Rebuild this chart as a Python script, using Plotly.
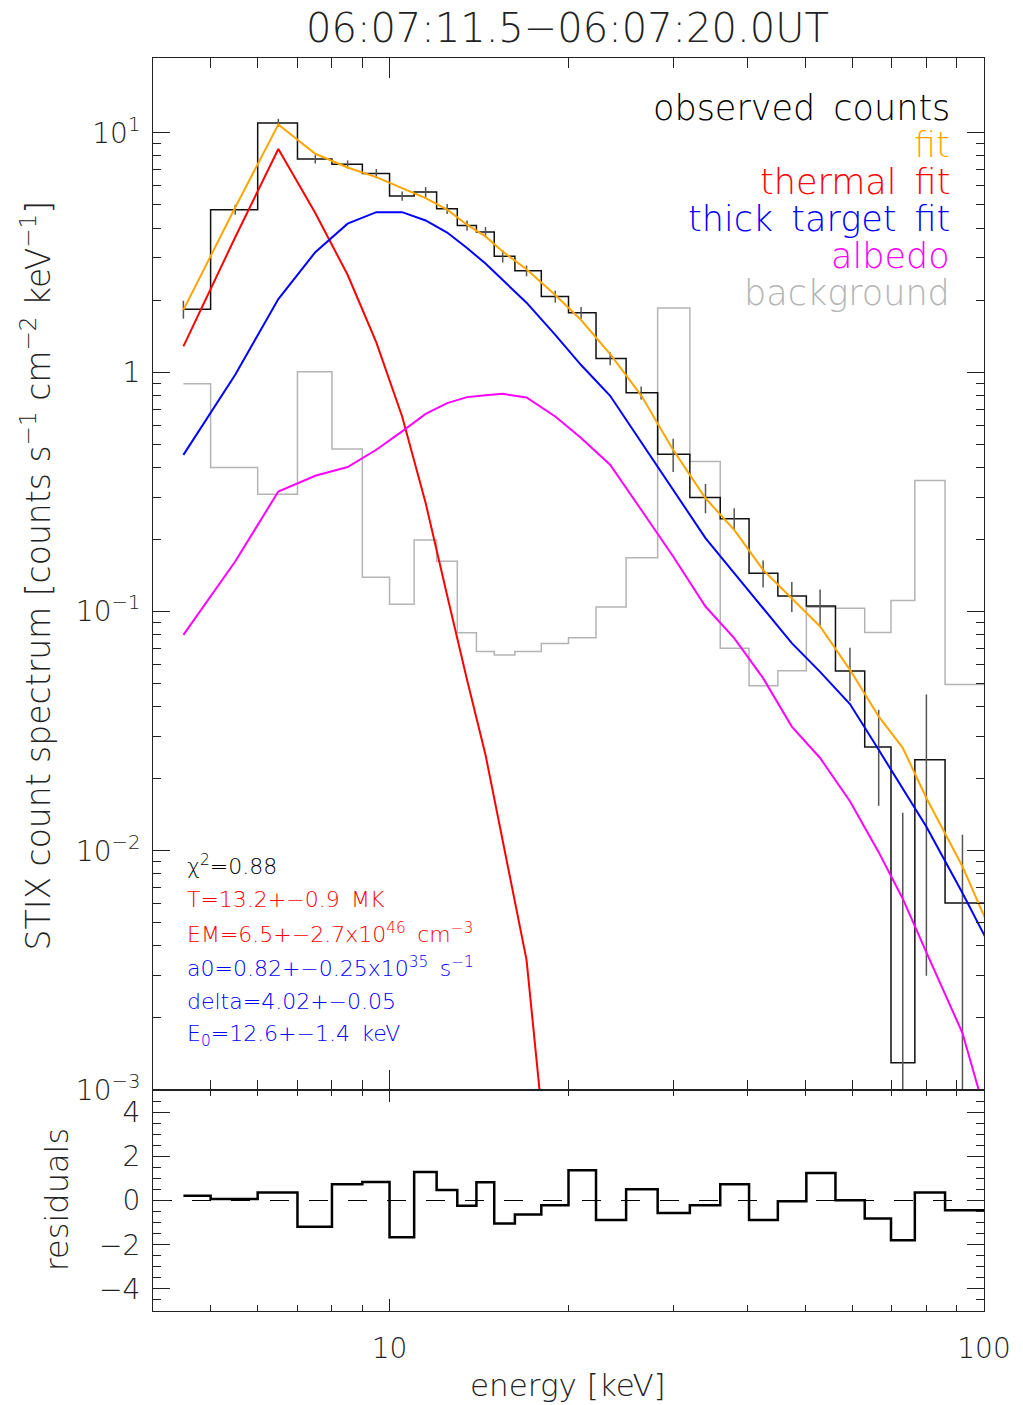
import numpy as np
import plotly.graph_objects as go

# ---------------- data ----------------
edges = [4, 5, 6, 7, 8, 9, 10, 11, 12, 13, 14, 15, 16, 18, 20, 22, 25, 28, 32, 36,
         40, 45, 50, 56, 63, 70, 76, 84, 100, 150]

observed = [1.83, 4.77, 11.0, 7.77, 7.38, 6.76, 5.44, 5.65, 4.81, 4.10, 3.85, 3.05,
            2.65, 2.07, 1.77, 1.14, 0.82, 0.454, 0.299, 0.244, 0.1445, 0.116, 0.1054,
            0.0563, 0.0271, 0.0013, 0.0240, 0.00604]
observed_err = [0.157, 0.23, 0.43, 0.33, 0.29, 0.30, 0.24, 0.28, 0.235, 0.20, 0.19, 0.18,
                0.138, 0.118, 0.10, 0.071, 0.051, 0.072, 0.042, 0.026, 0.0186, 0.0167,
                0.0179, 0.0141, 0.0117, 0.0131, 0.0210, 0.00562]

fit = [1.82, 4.87, 10.83, 8.17, 7.16, 6.53, 5.87, 5.33, 4.77, 4.13, 3.69, 3.19, 2.69,
       2.10, 1.65, 1.19, 0.80, 0.473, 0.297, 0.219, 0.149, 0.1137, 0.0865, 0.057,
       0.0364, 0.0269, 0.0166, 0.00859, 0.0015]
thermal = [1.28, 3.66, 8.55, 4.62, 2.55, 1.33, 0.652, 0.284, 0.1165, 0.0518, 0.0252,
           0.0111, 0.0035, 2.2e-4, 3e-5, 3e-6, 2e-7, 1e-8, 5e-10, 2e-11, 1e-12, 1e-13,
           1e-14, 1e-15, 1e-16, 1e-17, 1e-18, 1e-19, 1e-20]
thick_target = [0.451, 0.974, 2.02, 3.17, 4.17, 4.66, 4.66, 4.30, 3.83, 3.30, 2.84, 2.43,
                1.95, 1.43, 1.07, 0.796, 0.508, 0.319, 0.2024, 0.1445, 0.1032, 0.0737,
                0.0559, 0.041, 0.0264, 0.0183, 0.0126, 0.00665, 0.00153]
albedo = [0.0798, 0.1616, 0.317, 0.3687, 0.401, 0.4735, 0.565, 0.669, 0.742, 0.786, 0.801,
          0.811, 0.783, 0.652, 0.530, 0.410, 0.266, 0.1696, 0.1048, 0.0773, 0.0526, 0.033,
          0.0244, 0.0161, 0.00986, 0.0063, 0.00376, 0.00173, 1.2e-4]
background = [0.894, 0.399, 0.309, 1.003, 0.477, 0.139, 0.107, 0.1986, 0.162, 0.0814,
              0.068, 0.0657, 0.068, 0.0734, 0.0776, 0.1043, 0.1675, 1.851, 0.423, 0.0702,
              0.0489, 0.0565, 0.104, 0.103, 0.0817, 0.111, 0.352, 0.0495]
residuals = [0.21, 0.07, 0.36, -1.19, 0.74, 0.84, -1.66, 1.29, 0.48, -0.24, 0.83, -1.04,
             -0.63, -0.21, 1.37, -0.88, 0.51, -0.56, -0.21, 0.74, -0.88, -0.03, 1.25,
             0.01, -0.82, -1.80, 0.36, -0.44]

title_text = "06:07:11.5\u221206:07:20.0UT"
legend_labels = ["observed\u2009 counts", "fit", "thermal\u2009 fit",
                 "thick\u2009 target\u2009 fit", "albedo", "background"]
legend_colors = ["#000000", "#FFA500", "#FF0000", "#0000FF", "#FF00FF", "#B4B4B4"]
param_lines = [
    ("\u03c7<sup>2</sup>=0.88", "#000000"),
    ("T=13.2+\u22120.9\u2009 MK", "#FF0000"),
    ("EM=6.5+\u22122.7x10<sup>46</sup>\u2009 cm<sup>\u22123</sup>", "#FF0000"),
    ("a0=0.82+\u22120.25x10<sup>35</sup>\u2009 s<sup>\u22121</sup>", "#0000FF"),
    ("delta=4.02+\u22120.05", "#0000FF"),
    ("E<sub>0</sub>=12.6+\u22121.4\u2009 keV", "#0000FF"),
]
ytick_vals = [1e-3, 1e-2, 1e-1, 1, 10]
ytick_text = ["10<sup>\u22123</sup>", "10<sup>\u22122</sup>", "10<sup>\u22121</sup>", "1",
              "10<sup>1</sup>"]
xtick_vals = [10, 100]
xtick_text = ["10", "100"]

# ---------------- helpers ----------------
centers = [0.5 * (a + b) for a, b in zip(edges[:-1], edges[1:])]
n_obs = len(observed)
obs_centers = centers[:n_obs]
x_end = edges[n_obs]


def steps(cs, vals, xend):
    xs, ys = [], []
    n = len(vals)
    for i in range(n):
        left = cs[0] if i == 0 else 0.5 * (cs[i - 1] + cs[i])
        right = xend if i == n - 1 else 0.5 * (cs[i] + cs[i + 1])
        xs += [left, right]
        ys += [vals[i], vals[i]]
    return xs, ys


FONT = "DejaVu Sans"
W, H = 1023, 1405
ML, MR, MT, MB = 153, 36, 58, 94
PH = H - MT - MB
split = 221 / PH

fig = go.Figure()

# background
bx, by = steps(obs_centers, background, x_end)
fig.add_trace(go.Scatter(x=bx, y=by, mode="lines", line=dict(color="#B4B4B4", width=1.5),
                         xaxis="x", yaxis="y", showlegend=False, hoverinfo="skip"))
# observed
ox, oy = steps(obs_centers, observed, x_end)
fig.add_trace(go.Scatter(x=ox, y=oy, mode="lines", line=dict(color="#111111", width=1.5),
                         xaxis="x", yaxis="y", showlegend=False, hoverinfo="skip"))
ex, ey = [], []
for c, v, e in zip(obs_centers, observed, observed_err):
    ex += [c, c, None]
    ey += [max(v - e, 1e-8), v + e, None]
fig.add_trace(go.Scatter(x=ex, y=ey, mode="lines", line=dict(color="#555555", width=1.5),
                         xaxis="x", yaxis="y", showlegend=False, hoverinfo="skip"))
# models
for vals, col in [(thermal, "#FF0000"), (thick_target, "#0000FF"), (albedo, "#FF00FF"),
                  (fit, "#FFA500")]:
    fig.add_trace(go.Scatter(x=centers, y=vals, mode="lines", line=dict(color=col, width=2),
                             xaxis="x", yaxis="y", showlegend=False, hoverinfo="skip"))

# residuals
fig.add_trace(go.Scatter(x=[edges[0], x_end], y=[0, 0], mode="lines",
                         line=dict(color="#000000", width=1, dash="19px,20px"),
                         xaxis="x2", yaxis="y2", showlegend=False, hoverinfo="skip"))
rx, ry = steps(obs_centers, residuals, x_end)
fig.add_trace(go.Scatter(x=rx, y=ry, mode="lines", line=dict(color="#000000", width=2.5),
                         xaxis="x2", yaxis="y2", showlegend=False, hoverinfo="skip"))

minor_x = [k for k in range(4, 10)] + [k * 10 for k in range(2, 10)]
minor_y = [k * 10.0 ** d for d in range(-3, 1) for k in range(2, 10)]

axis_common = dict(showline=True, linecolor="#222222", linewidth=1, mirror="allticks",
                   ticks="inside", tickcolor="#222222", showgrid=False, zeroline=False)
tickfont = dict(family=FONT, size=28, color="#222222", weight=200)

fig.update_layout(
    width=W, height=H,
    margin=dict(l=ML, r=MR, t=MT, b=MB),
    paper_bgcolor="white", plot_bgcolor="white",
    font=dict(family=FONT, color="#222222", weight=200),
    xaxis=dict(type="log", range=[np.log10(edges[0]), 2], anchor="y",
               domain=[0, 1], tickvals=xtick_vals, showticklabels=False, ticklen=20,
               minor=dict(tickvals=minor_x, ticklen=10, ticks="inside", tickcolor="#222222"),
               **axis_common),
    yaxis=dict(type="log", range=[-3, 1.3125], domain=[split, 1], anchor="x",
               tickvals=ytick_vals, ticktext=ytick_text, ticklen=17, tickfont=tickfont,
               ticklabelstandoff=6,
               minor=dict(tickvals=minor_y, ticklen=8, ticks="inside", tickcolor="#222222"),
               **axis_common),
    xaxis2=dict(type="log", range=[np.log10(edges[0]), 2], anchor="y2", matches="x",
                domain=[0, 1], tickvals=xtick_vals, ticktext=xtick_text, ticklen=12,
                tickfont=tickfont, ticklabelstandoff=12,
                minor=dict(tickvals=minor_x, ticklen=6, ticks="inside", tickcolor="#222222"),
                **axis_common),
    yaxis2=dict(range=[-5, 5], domain=[0, split], anchor="x2",
                tickvals=[-4, -2, 0, 2, 4], ticklen=17, tickfont=tickfont,
                ticklabelstandoff=6,
                minor=dict(dtick=0.5, ticklen=8, ticks="inside", tickcolor="#222222"),
                **axis_common),
)


def px_x(p):
    return (p - ML) / (W - ML - MR)


def px_y(p):
    return 1 - (p - MT) / PH


ann = []
ann.append(dict(text=title_text, x=px_x(569), y=px_y(28), xref="paper", yref="paper",
                showarrow=False, xanchor="center", yanchor="middle",
                font=dict(family=FONT, size=40, color="#222222", weight=200)))
for i, (lab, col) in enumerate(zip(legend_labels, legend_colors)):
    ann.append(dict(text=lab, x=px_x(955), y=px_y(108 + 37 * i), xref="paper", yref="paper",
                    showarrow=False, xanchor="right", yanchor="middle",
                    font=dict(family=FONT, size=35, color=col, weight=200)))
for i, (lab, col) in enumerate(param_lines):
    ann.append(dict(text=lab, x=px_x(185), y=px_y(865 + 34 * i), xref="paper", yref="paper",
                    showarrow=False, xanchor="left", yanchor="middle",
                    font=dict(family=FONT, size=22, color=col, weight=200)))
ann.append(dict(text="energy [keV]", x=px_x(569), y=px_y(1385), xref="paper", yref="paper",
                showarrow=False, xanchor="center", yanchor="middle",
                font=dict(family=FONT, size=31, color="#222222", weight=200)))
ann.append(dict(text="STIX count spectrum [counts s<sup>\u22121</sup> cm<sup>\u22122</sup> keV<sup>\u22121</sup>]",
                x=px_x(36), y=px_y(575), xref="paper", yref="paper", textangle=-90,
                showarrow=False, xanchor="center", yanchor="middle",
                font=dict(family=FONT, size=33, color="#222222", weight=200)))
ann.append(dict(text="residuals", x=px_x(57), y=px_y(1200), xref="paper", yref="paper",
                textangle=-90, showarrow=False, xanchor="center", yanchor="middle",
                font=dict(family=FONT, size=32, color="#222222", weight=200)))
fig.update_layout(annotations=ann)

fig.write_html("out.html")
